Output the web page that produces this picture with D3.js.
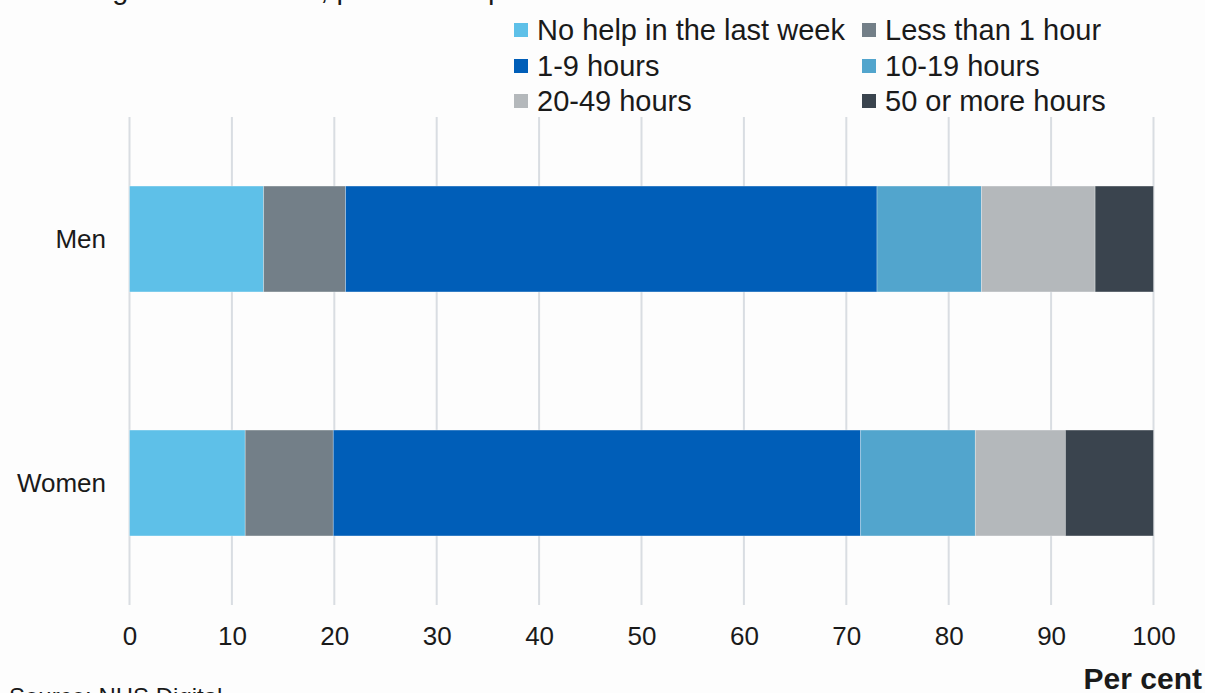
<!DOCTYPE html>
<html>
<head>
<meta charset="utf-8">
<script src="https://cdn.jsdelivr.net/npm/d3@7"></script>
<style>
  html, body { margin: 0; padding: 0; background: #fdfdfd; }
  svg { display: block; font-family: "Liberation Sans", Arial, sans-serif; }
</style>
</head>
<body>
<svg id="chart" width="1205" height="693"></svg>
<script>
// Hours of unpaid care provided in the last week, by sex (per cent)
const categories = ["Men", "Women"];
const seriesNames = ["No help in the last week", "Less than 1 hour", "1-9 hours",
                     "10-19 hours", "20-49 hours", "50 or more hours"];
const seriesColors = ["#5ec0e8", "#737f88", "#005eb8", "#52a5cd", "#b4b8bb", "#3a444e"];
const menValues   = [13.1, 8.0, 51.9, 10.2, 11.1, 5.7];
const womenValues = [11.3, 8.6, 51.5, 11.2, 8.8, 8.6];
const tickValues  = [0, 10, 20, 30, 40, 50, 60, 70, 80, 90, 100];

const valuesByCategory = { "Men": menValues, "Women": womenValues };

const rows = categories.map(c => {
  const r = { category: c };
  seriesNames.forEach((s, i) => { r[s] = valuesByCategory[c][i]; });
  return r;
});

const svg = d3.select("#chart");
const textColor = "#1a1a1a";

const x = d3.scaleLinear().domain([0, 100]).range([129.5, 1153.5]);
const y = d3.scaleBand().domain(categories).range([117, 605])
  .paddingInner(0.566).paddingOuter(0.283);
const color = d3.scaleOrdinal().domain(seriesNames).range(seriesColors);

// Subtitle line at the top edge
svg.append("text")
  .attr("x", 14).attr("y", -1)
  .attr("font-size", 29).attr("fill", textColor)
  .text("Base: aged 16 and over, provided unpaid care");

// Vertical gridlines
svg.append("g")
  .selectAll("line")
  .data(tickValues)
  .join("line")
  .attr("x1", d => x(d)).attr("x2", d => x(d))
  .attr("y1", 117).attr("y2", 605)
  .attr("stroke", "#d9dde2").attr("stroke-width", 2);

// Stacked bars
const stacked = d3.stack().keys(seriesNames)(rows);
svg.append("g")
  .selectAll("g")
  .data(stacked)
  .join("g")
  .attr("fill", d => color(d.key))
  .selectAll("rect")
  .data(d => d)
  .join("rect")
  .attr("x", d => x(d[0]))
  .attr("width", d => x(d[1]) - x(d[0]))
  .attr("y", d => y(d.data.category))
  .attr("height", y.bandwidth())
  .attr("stroke", "#ffffff").attr("stroke-opacity", 0.35).attr("stroke-width", 0.8);

// Category labels
svg.append("g")
  .selectAll("text")
  .data(categories)
  .join("text")
  .attr("x", 106)
  .attr("y", d => y(d) + y.bandwidth() / 2)
  .attr("dy", "0.35em")
  .attr("text-anchor", "end")
  .attr("font-size", 26).attr("fill", textColor)
  .text(d => d);

// X axis tick labels
const xAxis = d3.axisBottom(x).tickValues(tickValues).tickSize(0).tickPadding(0);
const gx = svg.append("g").attr("transform", "translate(0,627)").call(xAxis);
gx.select(".domain").remove();
gx.selectAll("text")
  .attr("font-size", 26)
  .attr("font-family", "'Liberation Sans', Arial, sans-serif")
  .attr("fill", textColor)
  .attr("dy", "0.71em");

// Axis unit
svg.append("text")
  .attr("x", 1202).attr("y", 689)
  .attr("text-anchor", "end")
  .attr("font-size", 30).attr("font-weight", "bold").attr("fill", textColor)
  .text("Per cent");

// Source note
svg.append("text")
  .attr("x", 9).attr("y", 705)
  .attr("font-size", 24).attr("fill", textColor)
  .text("Source: NHS Digital");

// Legend: two columns, three rows
const legendCols = [514, 862];
const legendRows = [30, 66, 101];
const legend = svg.append("g")
  .selectAll("g")
  .data(seriesNames)
  .join("g")
  .attr("transform", (d, i) => `translate(${legendCols[i % 2]},${legendRows[Math.floor(i / 2)]})`);
legend.append("rect")
  .attr("x", 0).attr("y", -7)
  .attr("width", 14).attr("height", 14)
  .attr("fill", d => color(d));
legend.append("text")
  .attr("x", 23).attr("y", 0)
  .attr("dy", "0.35em")
  .attr("font-size", 29).attr("fill", textColor)
  .text(d => d);
</script>
</body>
</html>
